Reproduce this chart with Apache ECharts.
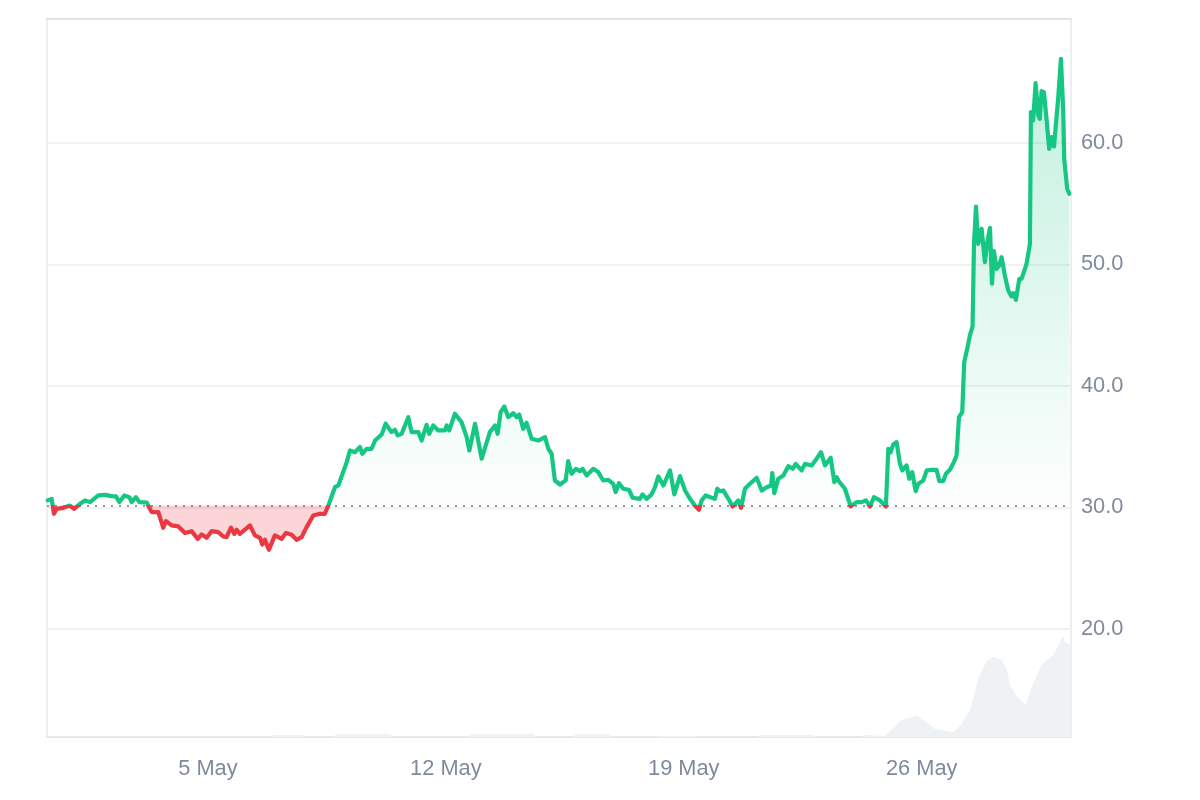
<!DOCTYPE html>
<html>
<head>
<meta charset="utf-8">
<style>html,body{margin:0;padding:0;background:#fff}#c{width:1200px;height:800px}</style>
<script src="https://cdn.jsdelivr.net/npm/echarts@6/dist/echarts.min.js"></script>
</head>
<body>
<div id="c"></div>
<script>
// hours since the start of the window
const priceHours = [0.5,3.3,4.9,6.8,11.5,16.2,19.1,23.3,26.8,30.4,36.2,40.9,45.6,48.7,51.1,54.6,58.1,59.8,62.8,65.2,70.4,73.9,78.6,82.1,84.0,88.0,92.7,97.4,102.1,106.4,109.2,112.7,116.2,120.9,124.5,126.8,129.9,132.2,133.9,136.2,143.3,146.8,150.4,152.0,153.9,156.7,160.9,165.7,168.7,172.7,176.2,179.8,183.3,188.0,192.7,196.2,199.1,203.3,205.7,211.6,213.9,217.4,221.0,222.6,225.7,229.2,231.6,236.3,239.1,243.3,245.7,247.6,250.4,255.1,257.4,262.2,264.5,268.0,269.9,272.7,276.3,281.0,282.2,284.0,288.0,292.7,296.3,298.2,302.2,306.9,312.7,316.3,318.2,320.3,322.9,325.7,329.2,331.6,333.4,336.3,338.6,342.2,346.9,349.2,351.6,354.0,356.3,358.6,362.2,364.5,366.2,368.0,370.4,373.4,376.3,378.2,381.0,385.7,389.2,392.7,396.3,399.8,401.5,403.8,406.9,410.9,413.5,418.6,420.5,423.3,426.9,429.3,431.6,435.2,439.9,442.9,446.9,450.5,454.0,457.5,460.3,462.2,465.1,469.3,471.6,473.3,475.2,477.5,481.1,484.1,488.1,490.0,492.8,496.3,497.5,501.1,504.6,508.1,511.2,512.1,513.5,516.3,519.9,523.4,526.5,528.6,532.8,535.2,539.9,543.4,546.5,549.3,553.3,555.9,557.5,559.2,563.4,567.4,571.6,575.2,578.2,581.1,583.9,588.1,592.3,594.0,595.7,597.5,599.9,602.2,603.9,606.9,608.8,610.9,613.3,615.2,618.7,621.1,624.6,628.1,630.0,632.8,634.7,637.5,640.3,642.2,643.9,646.2,647.6,648.8,650.0,651.6,653.5,654.5,655.9,657.5,659.9,662.2,663.9,665.8,667.2,668.6,670.5,672.3,674.0,676.3,678.7,681.0,682.2,684.1,686.5,688.1,691.6,694.0,694.7,696.3,698.0,699.9,701.0,702.2,703.9,705.8,707.6,709.3,711.0,714.0,715.9,717.5,718.2,719.2,720.3,721.8];
const priceValues = [30.58,30.71,29.48,29.89,29.97,30.16,29.89,30.30,30.58,30.44,30.99,31.04,30.93,30.91,30.44,30.99,30.85,30.44,30.85,30.44,30.41,29.62,29.62,28.33,28.88,28.52,28.44,27.89,28.05,27.42,27.78,27.50,28.05,27.97,27.61,27.56,28.33,27.83,28.16,27.83,28.52,27.70,27.50,26.95,27.34,26.52,27.70,27.42,27.91,27.75,27.34,27.56,28.38,29.34,29.48,29.48,30.30,31.67,31.81,33.73,34.69,34.55,34.97,34.42,34.83,34.83,35.51,36.01,36.89,36.20,36.39,35.93,36.06,37.43,36.20,36.20,35.51,36.80,36.06,36.75,36.34,36.34,36.75,36.34,37.71,37.02,35.79,34.69,36.89,34.01,36.20,36.75,36.06,37.85,38.31,37.43,37.76,37.43,37.65,36.47,36.97,35.65,35.51,35.65,35.79,34.83,34.42,32.22,31.89,32.09,32.22,33.81,32.77,33.18,32.99,33.18,32.63,33.18,32.91,32.22,32.28,31.95,31.26,32.00,31.54,31.45,30.80,30.71,31.07,30.71,31.07,31.67,32.55,31.81,33.05,31.07,32.58,31.40,30.71,30.15,29.81,30.58,30.99,30.80,30.71,31.54,31.34,31.40,30.71,30.08,30.58,29.97,31.54,31.95,31.81,32.44,31.40,31.67,31.81,32.83,31.18,32.36,32.63,33.40,33.18,33.59,33.05,33.59,33.46,34.01,34.55,33.46,34.09,32.09,32.50,32.14,31.54,30.10,30.44,30.44,30.58,30.08,30.85,30.58,30.08,34.83,34.55,35.19,35.38,33.59,33.05,33.46,32.36,32.91,31.34,31.95,32.22,33.05,33.10,33.10,32.17,32.17,32.77,33.10,33.73,34.28,37.43,37.85,41.96,41.88,43.20,44.16,44.90,51.70,54.77,51.70,52.94,50.19,51.84,53.02,48.41,51.10,49.64,49.92,50.60,49.09,47.86,47.37,47.64,47.09,48.82,48.82,50.05,51.70,62.54,61.85,64.92,62.26,61.99,64.27,64.18,61.85,59.52,60.48,59.71,63.77,66.93,62.67,58.70,58.70,56.23,55.82];
const volumeHours = [0,158,160,181,183,200,206,242,245,296,300,343,346,370,374,396,400,430,434,456,460,500,504,540,544,574,577.5,591.6,597.5,603.4,614,621,627,640,644.6,651.6,655,657.5,663.4,668,674,677.5,680,684.6,691,695,702,710.5,715,717,719.4,723];
const volumeValues = [0,0,2,2,0,0,3,3,0,0,3,3,0,0,3,3,0,0,1,1,0,0,2,2,0,0,2,1,9,17,21,15,8,5,11,26,44,59,76,80,77,69,52,41,32,49,72,82,94,101,94,92];
const yTicks = [20,30,40,50,60];
const dayTicks = [5,12,19,26];
const baseline = 30.17;
const green = '#16c784', red = '#ea3943';

const t0 = Date.UTC(2024,3,30,6,24);
const hr = 3600000;
const at = h => t0 + h*hr;
const linePts = priceHours.map((h,i)=>[at(h),priceValues[i]]);
const upPts = priceHours.map((h,i)=>[at(h),Math.max(priceValues[i],baseline)]);
const downPts = priceHours.map((h,i)=>[at(h),Math.min(priceValues[i],baseline)]);
const volPts = volumeHours.map((h,i)=>[at(h),volumeValues[i]]);
const dayMs = dayTicks.map(d=>Date.UTC(2024,4,d));
const labelStyle = {color:'#808a9d',fontSize:21.8,fontFamily:'"Liberation Sans",Arial,sans-serif'};

const chart = echarts.init(document.getElementById('c'),null,{renderer:'canvas'});
chart.setOption({
  animation:false,
  backgroundColor:'#fff',
  grid:{left:47,top:19,width:1024,height:718,show:true,borderColor:'#eceef1',borderWidth:2,backgroundColor:'transparent'},
  xAxis:[
    {type:'value',min:at(0),max:at(723),
     axisLine:{show:true,lineStyle:{color:'#e6e8ec',width:2}},
     axisTick:{show:false,customValues:dayMs},
     splitLine:{show:false},
     axisLabel:Object.assign({margin:21,hideOverlap:false,customValues:dayMs,
       formatter:v=>new Date(v).getUTCDate()+' May'},labelStyle)},
    {type:'value',position:'top',min:at(0),max:at(723),
     axisLine:{show:true,lineStyle:{color:'#e3e4e6',width:2}},
     axisTick:{show:false},splitLine:{show:false},axisLabel:{show:false}}
  ],
  yAxis:[
    {type:'value',position:'right',min:11.11,max:70.2,
     axisLine:{show:false},
     axisTick:{show:false,customValues:yTicks},
     splitLine:{show:true,lineStyle:{color:'#eff1f4',width:2}},
     axisLabel:Object.assign({margin:10,padding:[2,0,0,0],customValues:yTicks,formatter:v=>v.toFixed(1)},labelStyle)},
    {type:'value',position:'left',min:0,max:718,axisLine:{show:false},axisTick:{show:false},splitLine:{show:false},axisLabel:{show:false}}
  ],
  visualMap:{show:false,type:'piecewise',seriesIndex:3,dimension:1,
    pieces:[{min:0,max:baseline,color:red},{min:baseline,max:100,color:green}]},
  series:[
    {type:'line',name:'Volume',yAxisIndex:1,data:volPts,showSymbol:false,z:1,lineStyle:{width:0},
     itemStyle:{color:'#eff2f5'},areaStyle:{color:'#eff2f5',opacity:1}},
    {type:'line',name:'Above',data:upPts,showSymbol:false,z:2,lineStyle:{width:0},itemStyle:{color:green},
     areaStyle:{origin:baseline,color:new echarts.graphic.LinearGradient(0,0,0,1,[
       {offset:0,color:'rgba(22,199,132,0.38)'},{offset:1,color:'rgba(22,199,132,0.01)'}])}},
    {type:'line',name:'Below',data:downPts,showSymbol:false,z:2,lineStyle:{width:0},itemStyle:{color:red},
     areaStyle:{origin:baseline,color:'rgba(234,57,67,0.30)'},
     markLine:{silent:true,symbol:'none',label:{show:false},z:2,
       lineStyle:{color:'#777',width:1.6,type:[2,6]},data:[{yAxis:baseline}]}},
    {type:'line',name:'Price',data:linePts,showSymbol:false,z:3,
     lineStyle:{width:4.2,join:'round',cap:'round'}}
  ]
});
</script>
</body>
</html>
